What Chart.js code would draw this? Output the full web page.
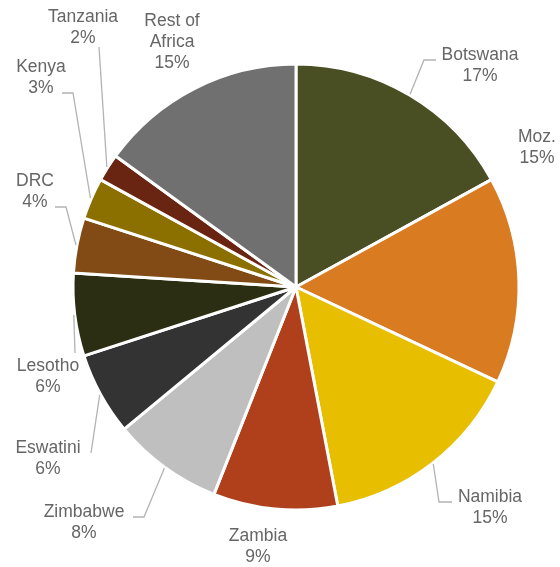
<!DOCTYPE html>
<html>
<head>
<meta charset="utf-8">
<script src="https://cdn.jsdelivr.net/npm/chart.js@4"></script>
<style>
html,body{margin:0;padding:0;background:#fff;}
#wrap{width:560px;height:567px;position:relative;}
</style>
</head>
<body>
<div id="wrap"><canvas id="pie" width="560" height="567"></canvas></div>
<script>
const countries = ["Botswana","Moz.","Namibia","Zambia","Zimbabwe","Eswatini","Lesotho","DRC","Kenya","Tanzania","Rest of Africa"]
const shares = [17,15,15,9,8,6,6,4,3,2,15]
const sliceColors = ["#4a4f23","#d97b20","#e8be00","#b0401c","#bfbfbf","#333333","#2c2e14","#824a14","#8b7000","#6a2412","#707070"]

// label box position (centre of first text line) and leader elbow points, relative to pie centre
const labelLayout = [
{x:184,y:-232,path:[[128,-227],[140,-227]]},
{x:241,y:-150},
{x:194,y:210,path:[[143,215],[156,215]]},
{x:-38,y:249},
{x:-212,y:225,path:[[-152,230],[-163,230]]},
{x:-248,y:161,path:[[-205,166]]},
{x:-248,y:79,path:[[-221,66]]},
{x:-261,y:-106,path:[[-230,-80],[-241,-80]]},
{x:-255,y:-220,path:[[-223,-194],[-234,-194]]},
{x:-213,y:-270,path:[[-197,-240]]},
{x:-124,y:-266}
]

const FONT = "17.5px 'Liberation Sans', Arial, sans-serif"
const LINE_H = 21

function wrapText(ctx,text,maxW){
const words = text.split(" ")
const lines = []
let cur = ""
for(const w of words){
const test = cur ? cur + " " + w : w
if(cur && ctx.measureText(test).width > maxW){
lines.push(cur)
cur = w
}else{
cur = test
}
}
lines.push(cur)
return lines
}

const pieLabels = {
id:"pieLabels",
afterDatasetsDraw(chart){
const ctx = chart.ctx
const meta = chart.getDatasetMeta(0)
ctx.save()
ctx.font = FONT
meta.data.forEach((arc,i)=>{
const {x:cx,y:cy,startAngle,endAngle,outerRadius} = arc.getProps(["x","y","startAngle","endAngle","outerRadius"],true)
const mid = (startAngle+endAngle)/2
const lay = labelLayout[i]

if(lay.path){
ctx.strokeStyle = "#b3b3b3"
ctx.lineWidth = 1.3
ctx.beginPath()
ctx.moveTo(cx+Math.cos(mid)*(outerRadius+1),cy+Math.sin(mid)*(outerRadius+1))
lay.path.forEach(p=>ctx.lineTo(cx+p[0],cy+p[1]))
ctx.stroke()
}

const lines = wrapText(ctx,chart.data.labels[i],90)
lines.push(shares[i] + "%")
ctx.fillStyle = "#666666"
ctx.textAlign = "center"
ctx.textBaseline = "middle"
lines.forEach((t,k)=>ctx.fillText(t,cx+lay.x,cy+lay.y+k*LINE_H))
})
ctx.restore()
}
}

new Chart(document.getElementById("pie"),{
type:"pie",
data:{
labels:countries,
datasets:[{
data:shares,
backgroundColor:sliceColors,
borderColor:"#ffffff",
borderWidth:3,
hoverOffset:0,
offset:0
}]
},
options:{
responsive:false,
animation:false,
radius:223,
layout:{padding:{left:74,right:42,top:65,bottom:58}},
plugins:{
legend:{display:false},
tooltip:{enabled:false}
}
},
plugins:[pieLabels]
})
</script>
</body>
</html>
